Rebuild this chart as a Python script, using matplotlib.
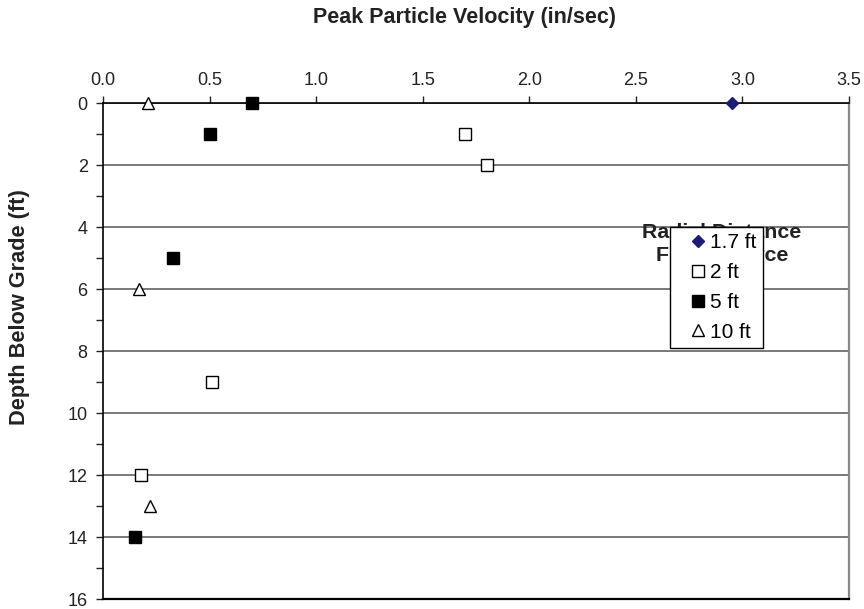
import numpy as np
import matplotlib.pyplot as plt
from matplotlib.ticker import MultipleLocator

plt.rcParams['font.family'] = ['Liberation Sans', 'DejaVu Sans']

# velocity (in/sec) and depth (ft) for each radial distance
v_17 = [2.95]
d_17 = [0]
v_2 = [1.70, 1.80, 0.51, 0.18]
d_2 = [1, 2, 9, 12]
v_5 = [0.70, 0.50, 0.33, 0.15]
d_5 = [0, 1, 5, 14]
v_10 = [0.21, 0.17, 0.22]
d_10 = [0, 6, 13]

fig = plt.figure(figsize=(8.64, 6.09), dpi=100)
ax = fig.add_axes([103/864, 1 - 599/609, (849 - 103)/864, (599 - 103)/609])

ax.plot(v_17, d_17, 'D', color='#1c1c78', markersize=6.5, clip_on=False,
        zorder=6, label='1.7 ft')
ax.plot(v_2, d_2, 's', mfc='white', mec='black', mew=1.0, markersize=8,
        clip_on=False, zorder=6, label='2 ft')
ax.plot(v_5, d_5, 's', color='black', markersize=8.5, clip_on=False,
        zorder=6, label='5 ft')
ax.plot(v_10, d_10, '^', mfc='white', mec='black', mew=1.0, markersize=8,
        clip_on=False, zorder=6, label='10 ft')

ax.set_xlim(0, 3.5)
ax.set_ylim(16, 0)
ax.xaxis.tick_top()
ax.xaxis.set_major_locator(MultipleLocator(0.5))
ax.xaxis.set_major_formatter(plt.FormatStrFormatter('%.1f'))
ax.yaxis.set_major_locator(MultipleLocator(2))
ax.yaxis.set_minor_locator(MultipleLocator(1))
ax.tick_params(axis='x', direction='out', length=5, width=1, pad=5,
               labelsize=13, colors='#222222')
ax.tick_params(axis='y', which='both', direction='out', length=5, width=1,
               pad=6, labelsize=13, colors='#222222')
ax.grid(axis='y', which='major', color='#555555', linewidth=1.1)

ax.spines['top'].set_linewidth(1.2)
ax.spines['left'].set_linewidth(1.2)
ax.spines['bottom'].set_linewidth(1.6)
ax.spines['right'].set_color('#888888')
ax.spines['right'].set_linewidth(1.6)

fig.text(464/864, 1 - 18/609, 'Peak Particle Velocity (in/sec)',
         ha='center', va='center', fontsize=15.5, fontweight='bold',
         color='#222222')
fig.text(20/864, 1 - 307/609, 'Depth Below Grade (ft)', rotation=90,
         ha='center', va='center', fontsize=15.7, fontweight='bold',
         color='#222222')

# legend title sits behind the legend box
ax.text(722/864, 1 - 244/609, 'Radial Distance\nFrom Source',
        transform=fig.transFigure, ha='center', va='center', fontsize=15.4,
        fontweight='bold', color='#222222', linespacing=1.22, zorder=4)

leg = ax.legend(loc='upper left', bbox_to_anchor=(670/864, 1 - 227/609),
                bbox_transform=fig.transFigure, frameon=True, fancybox=False,
                edgecolor='black', framealpha=1, fontsize=15,
                borderpad=0.3, labelspacing=0.52, handlelength=2.09,
                handletextpad=-0.47, borderaxespad=0)
leg.get_frame().set_linewidth(1.0)
leg.set_zorder(7)

fig.savefig('out.png', dpi=100)
